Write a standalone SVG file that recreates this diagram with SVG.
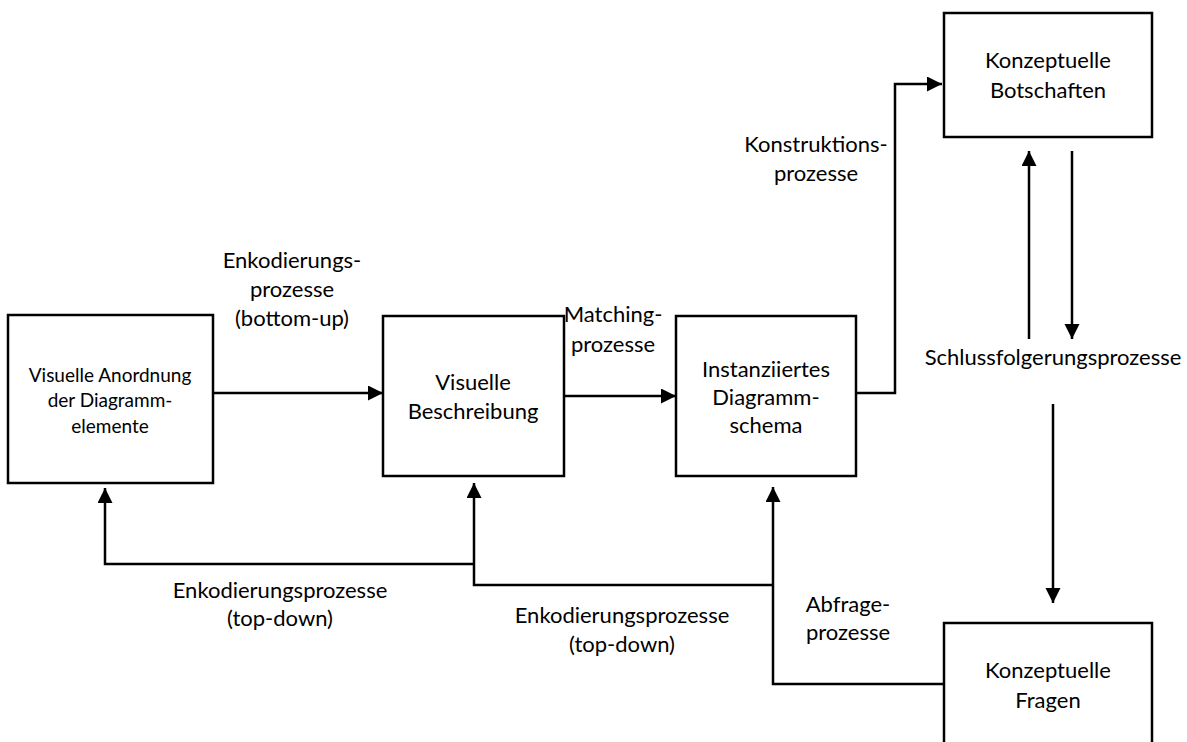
<svg xmlns="http://www.w3.org/2000/svg" width="1187" height="742" viewBox="0 0 1187 742">
  <style>
    .box { fill: #fff; stroke: #000; stroke-width: 2.5; }
    .line { fill: none; stroke: #000; stroke-width: 2.5; }
    text { font-family: Lato, "Liberation Sans", sans-serif; fill: #000; text-anchor: middle; }
    .t { font-size: 22px; }
    .ts { font-size: 19px; }
  </style>
  <defs>
    <marker id="arrow" markerUnits="userSpaceOnUse" markerWidth="16" markerHeight="16" refX="15" refY="7.5" orient="auto">
      <path d="M0,0 L15,7.5 L0,15 Z" fill="#000"/>
    </marker>
  </defs>

  <rect width="1187" height="742" fill="#fff"/>

  <!-- connectors -->
  <g id="connectors">
    <line class="line" x1="213" y1="393" x2="383" y2="393" marker-end="url(#arrow)"/>
    <line class="line" x1="564" y1="396" x2="676" y2="396" marker-end="url(#arrow)"/>
    <polyline class="line" points="856,393 895,393 895,84 942,84" marker-end="url(#arrow)"/>
    <line class="line" x1="1029" y1="339" x2="1029" y2="151" marker-end="url(#arrow)"/>
    <line class="line" x1="1072" y1="151" x2="1072" y2="339" marker-end="url(#arrow)"/>
    <line class="line" x1="1053" y1="404" x2="1053" y2="603" marker-end="url(#arrow)"/>
    <polyline class="line" points="944,684 773,684 773,487" marker-end="url(#arrow)"/>
    <polyline class="line" points="773,585 474,585 474,483" marker-end="url(#arrow)"/>
    <polyline class="line" points="474,564 105,564 105,488" marker-end="url(#arrow)"/>
  </g>

  <!-- connector labels -->
  <g id="labels" class="t">
    <text x="292" y="268">Enkodierungs-</text>
    <text x="292" y="297">prozesse</text>
    <text x="292" y="326">(bottom-up)</text>
    <text x="613" y="322">Matching-</text>
    <text x="613" y="352">prozesse</text>
    <text x="816" y="152">Konstruktions-</text>
    <text x="816" y="181">prozesse</text>
    <text x="1053" y="365">Schlussfolgerungsprozesse</text>
    <text x="848" y="612">Abfrage-</text>
    <text x="848" y="640">prozesse</text>
    <text x="280" y="598">Enkodierungsprozesse</text>
    <text x="280" y="626">(top-down)</text>
    <text x="622" y="623">Enkodierungsprozesse</text>
    <text x="622" y="652">(top-down)</text>
  </g>

  <!-- nodes -->
  <g id="node-anordnung">
    <rect class="box" x="8" y="315" width="205" height="168"/>
    <text class="ts" x="110" y="382">Visuelle Anordnung</text>
    <text class="ts" x="110" y="407">der Diagramm-</text>
    <text class="ts" x="110" y="433">elemente</text>
  </g>
  <g id="node-beschreibung">
    <rect class="box" x="383" y="316" width="181" height="160"/>
    <text class="t" x="473" y="390">Visuelle</text>
    <text class="t" x="473" y="419">Beschreibung</text>
  </g>
  <g id="node-schema">
    <rect class="box" x="676" y="316" width="180" height="160"/>
    <text class="t" x="766" y="377">Instanziiertes</text>
    <text class="t" x="766" y="405">Diagramm-</text>
    <text class="t" x="766" y="433">schema</text>
  </g>
  <g id="node-botschaften">
    <rect class="box" x="944" y="13" width="208" height="124"/>
    <text class="t" x="1048" y="68">Konzeptuelle</text>
    <text class="t" x="1048" y="98">Botschaften</text>
  </g>
  <g id="node-fragen">
    <rect class="box" x="944" y="623" width="208" height="140"/>
    <text class="t" x="1048" y="678">Konzeptuelle</text>
    <text class="t" x="1048" y="708">Fragen</text>
  </g>
</svg>
